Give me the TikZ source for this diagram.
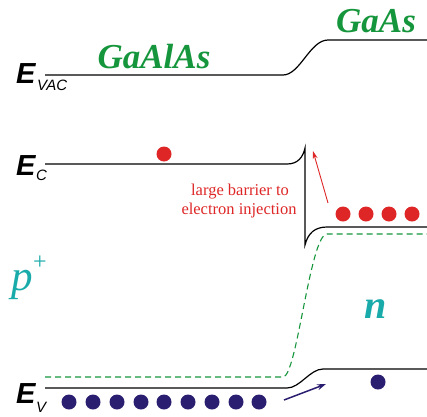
\documentclass[tikz,border=0pt]{standalone}
\usepackage{fontspec}
\setmainfont{Liberation Serif}
\newfontfamily\helv{Liberation Sans}
\usetikzlibrary{arrows.meta}
\definecolor{matgreen}{RGB}{22,150,60}
\definecolor{dopteal}{RGB}{25,170,170}
\definecolor{elred}{RGB}{222,38,38}
\definecolor{holeblue}{RGB}{42,30,112}
\tikzset{
  band/.style={black,line width=1.2pt},
  fermi/.style={matgreen,line width=1.1pt,dash pattern=on 6pt off 4pt},
  elec/.style={circle,fill=elred,inner sep=0pt,minimum size=15pt},
  hole/.style={circle,fill=holeblue,inner sep=0pt,minimum size=15pt},
  matlabel/.style={matgreen,font=\fontsize{35}{35}\selectfont\bfseries\itshape,anchor=base,inner sep=0pt},
  elabel/.style={font=\helv\bfseries\itshape\fontsize{29}{29}\selectfont,anchor=base west,inner sep=0pt},
  esub/.style={font=\helv\itshape\fontsize{15}{15}\selectfont,anchor=base west,inner sep=0pt},
  doplabel/.style={dopteal,font=\fontsize{40}{40}\selectfont\bfseries\itshape,anchor=base,inner sep=0pt},
  note/.style={elred,font=\fontsize{16.5}{19}\selectfont,align=center,inner sep=0pt}
}
\begin{document}
\begin{tikzpicture}[x=1pt,y=-1pt]
\useasboundingbox (0,0) rectangle (427,416);
% vacuum level
\draw[band] (45,75) -- (283,75) .. controls (300,75) and (310,40) .. (328,40) -- (427,40);
% conduction band
\draw[band] (45,164) -- (287,164) .. controls (298,164) and (303,157) .. (305,148) -- (305,245)
  .. controls (308,233) and (315,227) .. (327,227) -- (427,227);
% Fermi level
\draw[fermi] (45,377) -- (283,377) .. controls (297,377) and (310,234) .. (327,234) -- (427,234);
% valence band
\draw[band] (45,388) -- (287,388) .. controls (300,388) and (310,369) .. (323,369) -- (427,369);
% labels
\node[matlabel] (gaalas) at (154,68) {GaAlAs};
\node[matlabel] (gaas) at (376,32) {GaAs};
\node[elabel] (evac) at (16,83) {E};
\node[esub] (evacs) at (37,90) {VAC};
\node[elabel] (ec) at (16,175) {E};
\node[esub] (ecs) at (36,180) {C};
\node[elabel] (ev) at (16,403) {E};
\node[esub] (evs) at (36,412) {V};
\node[dopteal,font=\fontsize{43}{43}\selectfont\itshape,anchor=base,inner sep=0pt] (p) at (22,290) {p};
\node[dopteal,font=\fontsize{24}{24}\selectfont,anchor=base west,inner sep=0pt] (pplus) at (p.north east) {+};
\node[doplabel] (n) at (376,318) {n};
\node[note,anchor=base] (note1) at (240,195) {large barrier to};
\node[note,anchor=base] (note2) at (239,214) {electron injection};
% electrons
\node[elec] (e0) at (164,154) {};
\foreach \i/\x in {1/343,2/366,3/389,4/412}{\node[elec] (e\i) at (\x,214) {};}
% holes
\foreach \i/\x in {1/69,2/93,3/117,4/141,5/164,6/188,7/212,8/236,9/259}{\node[hole] (h\i) at (\x,402) {};}
\node[hole] (h10) at (378,382) {};
% arrows
\coordinate (ra0) at (328,203);
\coordinate (ra1) at (313,151);
\draw[elred,line width=0.9pt,-{Stealth[length=8pt,width=5pt]}] (ra0) -- (ra1);
\coordinate (ba0) at (284,400);
\coordinate (ba1) at (326,384);
\draw[holeblue,line width=1.5pt,-{Stealth[length=9pt,width=6pt]}] (ba0) -- (ba1);
\end{tikzpicture}
\end{document}
